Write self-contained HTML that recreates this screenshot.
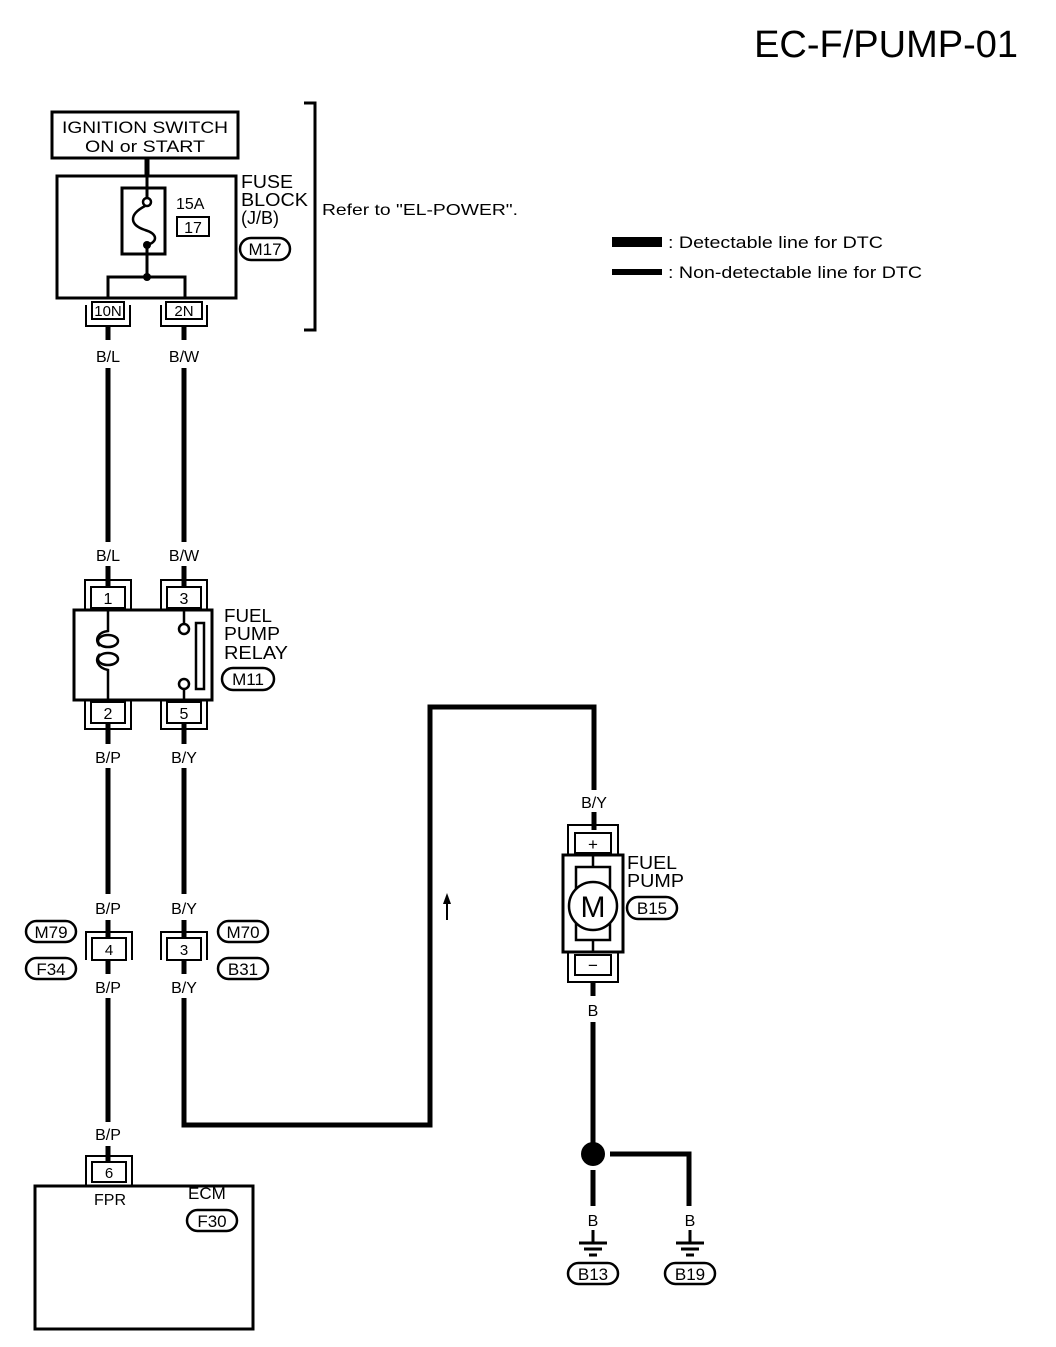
<!DOCTYPE html>
<html><head><style>
body{margin:0;background:#fff}
svg text{font-family:"Liberation Sans",Arial,sans-serif;fill:#000}
</style></head><body>
<svg width="1056" height="1342" viewBox="0 0 1056 1342" xmlns="http://www.w3.org/2000/svg">
<text x="1018" y="57" font-size="38" text-anchor="end">EC-F/PUMP-01</text>

<!-- ignition -->
<rect x="52" y="112" width="186" height="46" fill="none" stroke="#000" stroke-width="3"/>
<text x="145" y="133" font-size="17" text-anchor="middle" textLength="166" lengthAdjust="spacingAndGlyphs">IGNITION SWITCH</text>
<text x="145" y="152" font-size="17" text-anchor="middle" textLength="120" lengthAdjust="spacingAndGlyphs">ON or START</text>
<line x1="147" y1="158" x2="147" y2="176" stroke="#000" stroke-width="5"/>
<!-- fuse block -->
<rect x="57" y="176" width="179" height="122" fill="none" stroke="#000" stroke-width="3"/>
<rect x="122" y="188" width="43" height="66" fill="none" stroke="#000" stroke-width="3"/>
<line x1="147" y1="176" x2="147" y2="200" stroke="#000" stroke-width="3"/>
<circle cx="147" cy="202" r="4" fill="#fff" stroke="#000" stroke-width="2.5"/>
<path d="M145,206 C128,215 130,225 145,230 C158,234 158,242 147,245" fill="none" stroke="#000" stroke-width="2.5"/>
<circle cx="147" cy="245" r="4" fill="#000"/>
<line x1="147" y1="245" x2="147" y2="275" stroke="#000" stroke-width="3"/>
<circle cx="147" cy="277" r="4" fill="#000"/>
<polyline points="108,298 108,277 185,277 185,298" fill="none" stroke="#000" stroke-width="3"/>
<text x="176" y="209" font-size="16">15A</text>
<rect x="177" y="217" width="32" height="19" fill="none" stroke="#000" stroke-width="2"/>
<text x="193" y="233" font-size="16" text-anchor="middle">17</text>
<text x="241" y="188" font-size="18" textLength="52" lengthAdjust="spacingAndGlyphs">FUSE</text>
<text x="241" y="206" font-size="18" textLength="67" lengthAdjust="spacingAndGlyphs">BLOCK</text>
<text x="241" y="224" font-size="18">(J/B)</text>
<rect x="240" y="238" width="50" height="22" rx="11" fill="none" stroke="#000" stroke-width="2.5"/>
<text x="265" y="255" font-size="17" text-anchor="middle">M17</text>
<polyline points="304,103 315,103 315,330 304,330" fill="none" stroke="#000" stroke-width="3"/>
<text x="322" y="215" font-size="16" textLength="196" lengthAdjust="spacingAndGlyphs">Refer to "EL-POWER".</text>

<!-- connectors 10N 2N -->
<g fill="none" stroke="#000" stroke-width="2">
<rect x="92" y="302" width="32" height="17"/><polyline points="86,305 86,326 130,326 130,305"/>
<rect x="166" y="302" width="36" height="17"/><polyline points="161,305 161,326 207,326 207,305"/>
</g>
<text x="108" y="316" font-size="15" text-anchor="middle">10N</text>
<text x="184" y="316" font-size="15" text-anchor="middle">2N</text>
<g stroke="#000" stroke-width="5">
<line x1="108" y1="326" x2="108" y2="340"/><line x1="184" y1="326" x2="184" y2="340"/>
<line x1="108" y1="368" x2="108" y2="542"/><line x1="184" y1="368" x2="184" y2="542"/>
<line x1="108" y1="566" x2="108" y2="588"/><line x1="184" y1="566" x2="184" y2="588"/>
<line x1="108" y1="722" x2="108" y2="744"/><line x1="184" y1="722" x2="184" y2="744"/>
<line x1="108" y1="768" x2="108" y2="894"/><line x1="184" y1="768" x2="184" y2="894"/>
<line x1="108" y1="920" x2="108" y2="938"/><line x1="184" y1="920" x2="184" y2="938"/>
<line x1="108" y1="960" x2="108" y2="974"/><line x1="184" y1="960" x2="184" y2="974"/>
<line x1="108" y1="998" x2="108" y2="1122"/>
<line x1="108" y1="1146" x2="108" y2="1162"/>
</g>
<polyline points="184,998 184,1125 430,1125 430,707 594,707 594,790" fill="none" stroke="#000" stroke-width="5"/>
<g font-size="16" text-anchor="middle">
<text x="108" y="362">B/L</text><text x="184" y="362">B/W</text>
<text x="108" y="561">B/L</text><text x="184" y="561">B/W</text>
<text x="108" y="763">B/P</text><text x="184" y="763">B/Y</text>
<text x="108" y="914">B/P</text><text x="184" y="914">B/Y</text>
<text x="108" y="993">B/P</text><text x="184" y="993">B/Y</text>
<text x="108" y="1140">B/P</text>
</g>

<!-- relay -->
<g fill="none" stroke="#000" stroke-width="2">
<rect x="91" y="587" width="34" height="21"/><polyline points="85,610 85,580 131,580 131,610"/>
<rect x="167" y="587" width="34" height="21"/><polyline points="161,610 161,580 207,580 207,610"/>
<rect x="91" y="702" width="34" height="21"/><polyline points="85,700 85,729 131,729 131,700"/>
<rect x="167" y="702" width="34" height="21"/><polyline points="161,700 161,729 207,729 207,700"/>
</g>
<g font-size="16" text-anchor="middle">
<text x="108" y="604">1</text><text x="184" y="604">3</text>
<text x="108" y="719">2</text><text x="184" y="719">5</text>
</g>
<rect x="74" y="610" width="138" height="90" fill="#fff" stroke="#000" stroke-width="3"/>
<path d="M108,610 L108,631 C98,632 94,640 100,646 M100,654 C94,660 98,668 108,670 L108,700" fill="none" stroke="#000" stroke-width="2.5"/>
<ellipse cx="108" cy="641" rx="10" ry="6" fill="none" stroke="#000" stroke-width="2.5"/>
<ellipse cx="108" cy="659" rx="10" ry="6" fill="none" stroke="#000" stroke-width="2.5"/>
<line x1="184" y1="610" x2="184" y2="624" stroke="#000" stroke-width="2.5"/>
<circle cx="184" cy="629" r="5" fill="#fff" stroke="#000" stroke-width="2.5"/>
<circle cx="184" cy="684" r="5" fill="#fff" stroke="#000" stroke-width="2.5"/>
<line x1="184" y1="689" x2="184" y2="700" stroke="#000" stroke-width="2.5"/>
<rect x="196" y="623" width="8" height="66" fill="none" stroke="#000" stroke-width="2.5"/>
<text x="224" y="622" font-size="18" textLength="48" lengthAdjust="spacingAndGlyphs">FUEL</text>
<text x="224" y="640" font-size="18" textLength="56" lengthAdjust="spacingAndGlyphs">PUMP</text>
<text x="224" y="659" font-size="18" textLength="64" lengthAdjust="spacingAndGlyphs">RELAY</text>
<rect x="222" y="668" width="52" height="22" rx="11" fill="none" stroke="#000" stroke-width="2.5"/>
<text x="248" y="685" font-size="17" text-anchor="middle">M11</text>

<!-- in-line connectors -->
<g fill="none" stroke="#000" stroke-width="2">
<rect x="92" y="938" width="34" height="22"/><polyline points="86,960 86,932 132,932 132,960"/>
<rect x="167" y="938" width="34" height="22"/><polyline points="161,960 161,932 207,932 207,960"/>
</g>
<text x="109" y="955" font-size="15" text-anchor="middle">4</text>
<text x="184" y="955" font-size="15" text-anchor="middle">3</text>
<g fill="none" stroke="#000" stroke-width="2.5">
<rect x="26" y="921" width="50" height="21" rx="10.5"/>
<rect x="26" y="958" width="50" height="21" rx="10.5"/>
<rect x="218" y="921" width="50" height="21" rx="10.5"/>
<rect x="218" y="958" width="50" height="21" rx="10.5"/>
</g>
<g font-size="17" text-anchor="middle">
<text x="51" y="938">M79</text><text x="51" y="975">F34</text>
<text x="243" y="938">M70</text><text x="243" y="975">B31</text>
</g>

<!-- arrow -->
<line x1="447" y1="920" x2="447" y2="900" stroke="#000" stroke-width="2"/>
<polygon points="447,893 443,904 451,904" fill="#000"/>

<!-- ECM -->
<g fill="none" stroke="#000" stroke-width="2">
<rect x="92" y="1162" width="34" height="20"/><polyline points="86,1186 86,1156 132,1156 132,1186"/>
</g>
<text x="109" y="1178" font-size="15" text-anchor="middle">6</text>
<rect x="35" y="1186" width="218" height="143" fill="none" stroke="#000" stroke-width="3"/>
<text x="110" y="1205" font-size="16" text-anchor="middle">FPR</text>
<text x="188" y="1199" font-size="17">ECM</text>
<rect x="187" y="1210" width="50" height="21" rx="10.5" fill="none" stroke="#000" stroke-width="2.5"/>
<text x="212" y="1227" font-size="17" text-anchor="middle">F30</text>

<!-- fuel pump -->
<text x="594" y="808" font-size="16" text-anchor="middle">B/Y</text>
<line x1="594" y1="812" x2="594" y2="830" stroke="#000" stroke-width="5"/>
<g fill="none" stroke="#000" stroke-width="2">
<rect x="575" y="833" width="36" height="20"/><polyline points="568,855 568,825 618,825 618,855"/>
<rect x="575" y="955" width="36" height="20"/><polyline points="568,952 568,982 618,982 618,952"/>
</g>
<text x="593" y="850" font-size="17" text-anchor="middle">+</text>
<text x="593" y="971" font-size="17" text-anchor="middle">−</text>
<rect x="563" y="855" width="60" height="97" fill="#fff" stroke="#000" stroke-width="3"/>
<rect x="576" y="867" width="34" height="73" fill="none" stroke="#000" stroke-width="2.5"/>
<line x1="593" y1="855" x2="593" y2="867" stroke="#000" stroke-width="2.5"/>
<line x1="593" y1="940" x2="593" y2="952" stroke="#000" stroke-width="2.5"/>
<circle cx="593" cy="906" r="24" fill="#fff" stroke="#000" stroke-width="2.5"/>
<text x="593" y="917" font-size="30" text-anchor="middle">M</text>
<text x="627" y="869" font-size="18" textLength="50" lengthAdjust="spacingAndGlyphs">FUEL</text>
<text x="627" y="887" font-size="18" textLength="57" lengthAdjust="spacingAndGlyphs">PUMP</text>
<rect x="627" y="897" width="50" height="22" rx="11" fill="none" stroke="#000" stroke-width="2.5"/>
<text x="652" y="914" font-size="17" text-anchor="middle">B15</text>
<line x1="593" y1="982" x2="593" y2="996" stroke="#000" stroke-width="5"/>
<text x="593" y="1016" font-size="16" text-anchor="middle">B</text>
<line x1="593" y1="1022" x2="593" y2="1150" stroke="#000" stroke-width="5"/>
<circle cx="593" cy="1154" r="12" fill="#000"/>
<polyline points="610,1154 689,1154 689,1206" fill="none" stroke="#000" stroke-width="5"/>
<line x1="593" y1="1170" x2="593" y2="1206" stroke="#000" stroke-width="5"/>
<text x="593" y="1226" font-size="16" text-anchor="middle">B</text>
<text x="690" y="1226" font-size="16" text-anchor="middle">B</text>
<g stroke="#000" stroke-width="3">
<line x1="593" y1="1230" x2="593" y2="1243"/><line x1="579" y1="1243" x2="607" y2="1243"/>
<line x1="584" y1="1249" x2="602" y2="1249"/><line x1="589" y1="1255" x2="597" y2="1255"/>
<line x1="690" y1="1230" x2="690" y2="1243"/><line x1="676" y1="1243" x2="704" y2="1243"/>
<line x1="681" y1="1249" x2="699" y2="1249"/><line x1="686" y1="1255" x2="694" y2="1255"/>
</g>
<rect x="568" y="1263" width="50" height="21" rx="10.5" fill="none" stroke="#000" stroke-width="2.5"/>
<text x="593" y="1280" font-size="17" text-anchor="middle">B13</text>
<rect x="665" y="1263" width="50" height="21" rx="10.5" fill="none" stroke="#000" stroke-width="2.5"/>
<text x="690" y="1280" font-size="17" text-anchor="middle">B19</text>

<!-- legend -->
<rect x="612" y="237" width="50" height="10" fill="#000"/>
<text x="668" y="248" font-size="17" textLength="215" lengthAdjust="spacingAndGlyphs">: Detectable line for DTC</text>
<rect x="612" y="269" width="50" height="6" fill="#000"/>
<text x="668" y="278" font-size="17" textLength="254" lengthAdjust="spacingAndGlyphs">: Non-detectable line for DTC</text>
</svg>
</body></html>
